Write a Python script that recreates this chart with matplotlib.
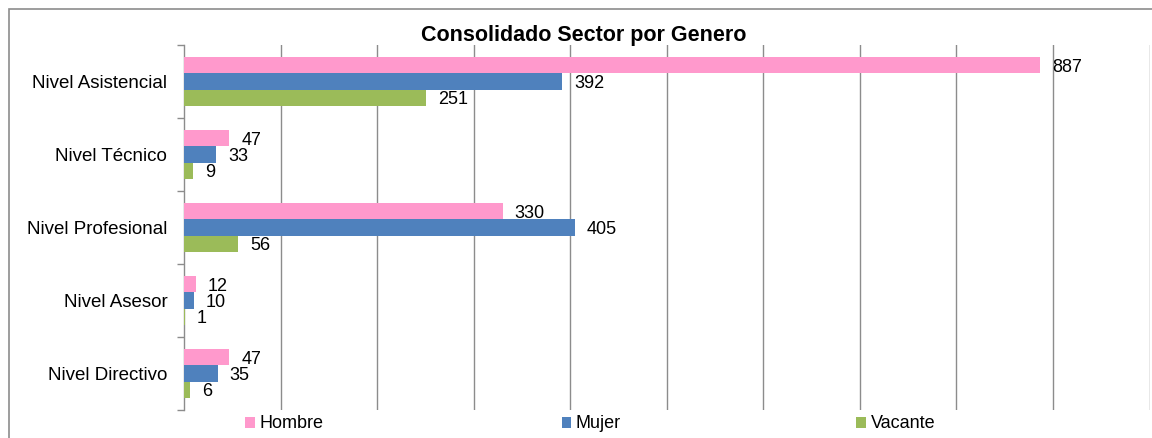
import matplotlib
matplotlib.use("Agg")
import matplotlib.pyplot as plt
from matplotlib.patches import Patch, Rectangle
import numpy as np

plt.rcParams['font.family'] = ['Liberation Sans', 'DejaVu Sans']

categories = ["Nivel Asistencial", "Nivel Técnico", "Nivel Profesional", "Nivel Asesor", "Nivel Directivo"]
series_names = ["Hombre", "Mujer", "Vacante"]
hombre = [887, 47, 330, 12, 47]
mujer = [392, 33, 405, 10, 35]
vacante = [251, 9, 56, 1, 6]
colors = ["#FF99CC", "#4F81BD", "#9BBB59"]

W, H = 1152, 438
fig = plt.figure(figsize=(W / 100, H / 100), dpi=100)
ax = fig.add_axes([184 / W, (H - 410) / H, (1149.5 - 184) / W, (410 - 45) / H])

y = np.arange(len(categories))
bh = 0.22
offsets = [-bh, 0, bh]
for vals, off, c, name in zip([hombre, mujer, vacante], offsets, colors, series_names):
    ax.barh(y + off, vals, height=bh, color=c, label=name, zorder=3)
    for yy, v in zip(y + off, vals):
        ax.annotate(str(v), xy=(v, yy), xytext=(12, -2), textcoords='offset pixels',
                    ha='left', va='center', fontsize=13, color='black', zorder=4)

ax.set_xlim(0, 1000)
ax.set_ylim(len(categories) - 0.5, -0.5)
ax.set_xticks(np.arange(100, 1001, 100))
ax.tick_params(axis='x', length=0, labelbottom=False)
ax.grid(axis='x', color='#8c8c8c', linewidth=1.0, zorder=0)
ax.set_yticks(y)
ax.set_yticklabels(categories, fontsize=13.5)
ax.tick_params(axis='y', which='major', length=0, pad=12)
ax.set_yticks(np.arange(-0.5, len(categories), 1.0), minor=True)
ax.tick_params(axis='y', which='minor', length=5, color='#8c8c8c', width=1)
for s in ['top', 'right', 'bottom']:
    ax.spines[s].set_visible(False)
ax.spines['left'].set_color('#8c8c8c')
ax.spines['left'].set_linewidth(1.0)

fig.text(583.5 / W, 1 - 36 / H, "Consolidado Sector por Genero", ha='center', va='center',
         fontsize=15.5, fontweight='bold')

leg_x = [245, 561.5, 856]
for name, c, lx in zip(series_names, colors, leg_x):
    fig.legend(handles=[Patch(facecolor=c, edgecolor='none')], labels=[name],
               loc='center left', bbox_to_anchor=(lx / W, 1 - 424 / H),
               frameon=False, fontsize=13, handlelength=0.55, handleheight=0.55,
               handletextpad=0.25, borderpad=0, borderaxespad=0)

fig.patches.append(Rectangle((8.5 / W, -0.2), 1.2, 1.2 - 8.5 / H, transform=fig.transFigure,
                             fill=False, edgecolor='#8c8c8c', linewidth=1.2))

fig.savefig("out.png", dpi=100)
